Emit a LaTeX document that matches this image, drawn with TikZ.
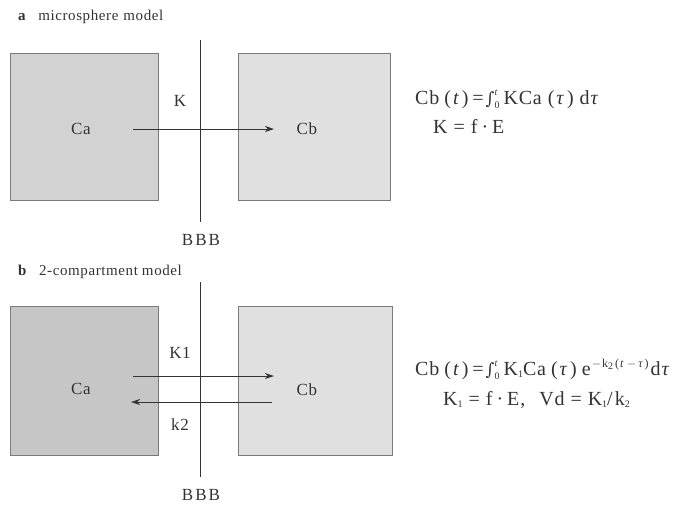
\documentclass[tikz,border=0pt]{standalone}
\usepackage{fontspec}
\setmainfont{Liberation Serif}
\newfontfamily\spaced[LetterSpace=4]{Liberation Serif}
\newfontfamily\symf{DejaVu Serif}
\usetikzlibrary{arrows.meta}
\definecolor{boxa}{HTML}{D2D2D2}
\definecolor{boxdark}{HTML}{C6C6C6}
\definecolor{boxlight}{HTML}{E0E0E0}
\definecolor{edge}{HTML}{7A7A7A}
\definecolor{ink}{HTML}{333333}
\newcommand{\myint}{{\symf\fontsize{17}{17}\selectfont ∫}\makebox[0pt][l]{\raisebox{9pt}{\fontsize{10}{10}\selectfont\textit{t}}}\raisebox{-4pt}{\fontsize{10}{10}\selectfont 0}}
\newcommand{\sbs}[1]{\raisebox{-2pt}{\fontsize{10}{10}\selectfont #1}}
\newcommand{\ps}[1]{(\hspace{2pt}#1\hspace{2pt})}
\begin{document}
\begin{tikzpicture}[x=1pt,y=-1pt,
  comp/.style={draw=edge,line width=0.9pt},
  membrane/.style={draw=ink,line width=0.8pt},
  flow/.style={draw=ink,line width=0.8pt,-{Stealth[length=9pt,width=6pt]}},
  lbl/.style={font=\fontsize{17}{19}\selectfont\spaced,text=ink,inner sep=0pt},
  eq/.style={font=\fontsize{20}{22}\selectfont\spaced,text=ink,inner sep=0pt,anchor=base west},
  head/.style={font=\fontsize{15}{17}\selectfont\spaced,text=ink,inner sep=0pt,anchor=west}]
\useasboundingbox (0,0) rectangle (685,507);
% panel a
\node[head] (ha) at (18,17) {\textbf{a}\hspace{12pt}microsphere\hspace{5pt}model};
\filldraw[comp,fill=boxa] (10,53) rectangle (158,200);
\filldraw[comp,fill=boxlight] (238,53) rectangle (390,200);
\coordinate (ma1) at (200,40);
\coordinate (ma2) at (200,222);
\draw[membrane] (ma1) -- (ma2);
\node[lbl] (caa) at (81,129) {Ca};
\node[lbl] (cba) at (307,129) {Cb};
\node[lbl] (ka) at (180,101) {K};
\node[lbl] (bbba) at (201,240) {B\hspace{2pt}B\hspace{2pt}B};
\coordinate (aa1) at (133,129);
\coordinate (aa2) at (274,129);
\draw[flow] (aa1) -- (aa2);
\node[eq] (eqa1) at (415,104) {Cb\hspace{5pt}\ps{\textit{t}}\hspace{4pt}=\hspace{2pt}\myint\hspace{4pt}KCa\hspace{6pt}\ps{\textit{τ}}\hspace{6pt}d\hspace{1pt}\textit{τ}};
\node[eq] (eqa2) at (433,133) {K\hspace{6pt}=\hspace{6pt}f\hspace{4pt}·\hspace{4pt}E};
% panel b
\node[head] (hb) at (18,272) {\textbf{b}\hspace{12pt}2-compartment\hspace{4pt}model};
\filldraw[comp,fill=boxdark] (10,306) rectangle (158,455);
\filldraw[comp,fill=boxlight] (238,306) rectangle (392,455);
\coordinate (mb1) at (200,282);
\coordinate (mb2) at (200,477);
\draw[membrane] (mb1) -- (mb2);
\node[lbl] (cab) at (81,389) {Ca};
\node[lbl] (cbb) at (307,390) {Cb};
\node[lbl] (k1) at (180,353) {K1};
\node[lbl] (k2) at (180,425) {k2};
\node[lbl] (bbbb) at (201,495) {B\hspace{2pt}B\hspace{2pt}B};
\coordinate (ba1) at (133,376);
\coordinate (ba2) at (274,376);
\coordinate (bb1) at (272,402);
\coordinate (bb2) at (131,402);
\draw[flow] (ba1) -- (ba2);
\draw[flow] (bb1) -- (bb2);
\node[eq] (eqb1) at (415,375) {Cb\hspace{5pt}\ps{\textit{t}}\hspace{4pt}=\hspace{2pt}\myint\hspace{4pt}K\sbs{1}Ca\hspace{5pt}\ps{\textit{τ}}\hspace{5pt}e\hspace{1pt}\raisebox{8pt}{\fontsize{12}{12}\selectfont$-$\hspace{1pt}k\sbs{2}\hspace{2pt}(\hspace{1pt}\textit{t}\hspace{3pt}$-$\hspace{2pt}\textit{τ}\hspace{1pt})}\hspace{2pt}d\hspace{1pt}\textit{τ}};
\node[eq] (eqb2) at (443,405) {K\sbs{1}\hspace{6pt}=\hspace{6pt}f\hspace{4pt}·\hspace{4pt}E,\hspace{14pt}Vd\hspace{6pt}=\hspace{6pt}K\sbs{1}/\hspace{2pt}k\sbs{2}};
\end{tikzpicture}
\end{document}
